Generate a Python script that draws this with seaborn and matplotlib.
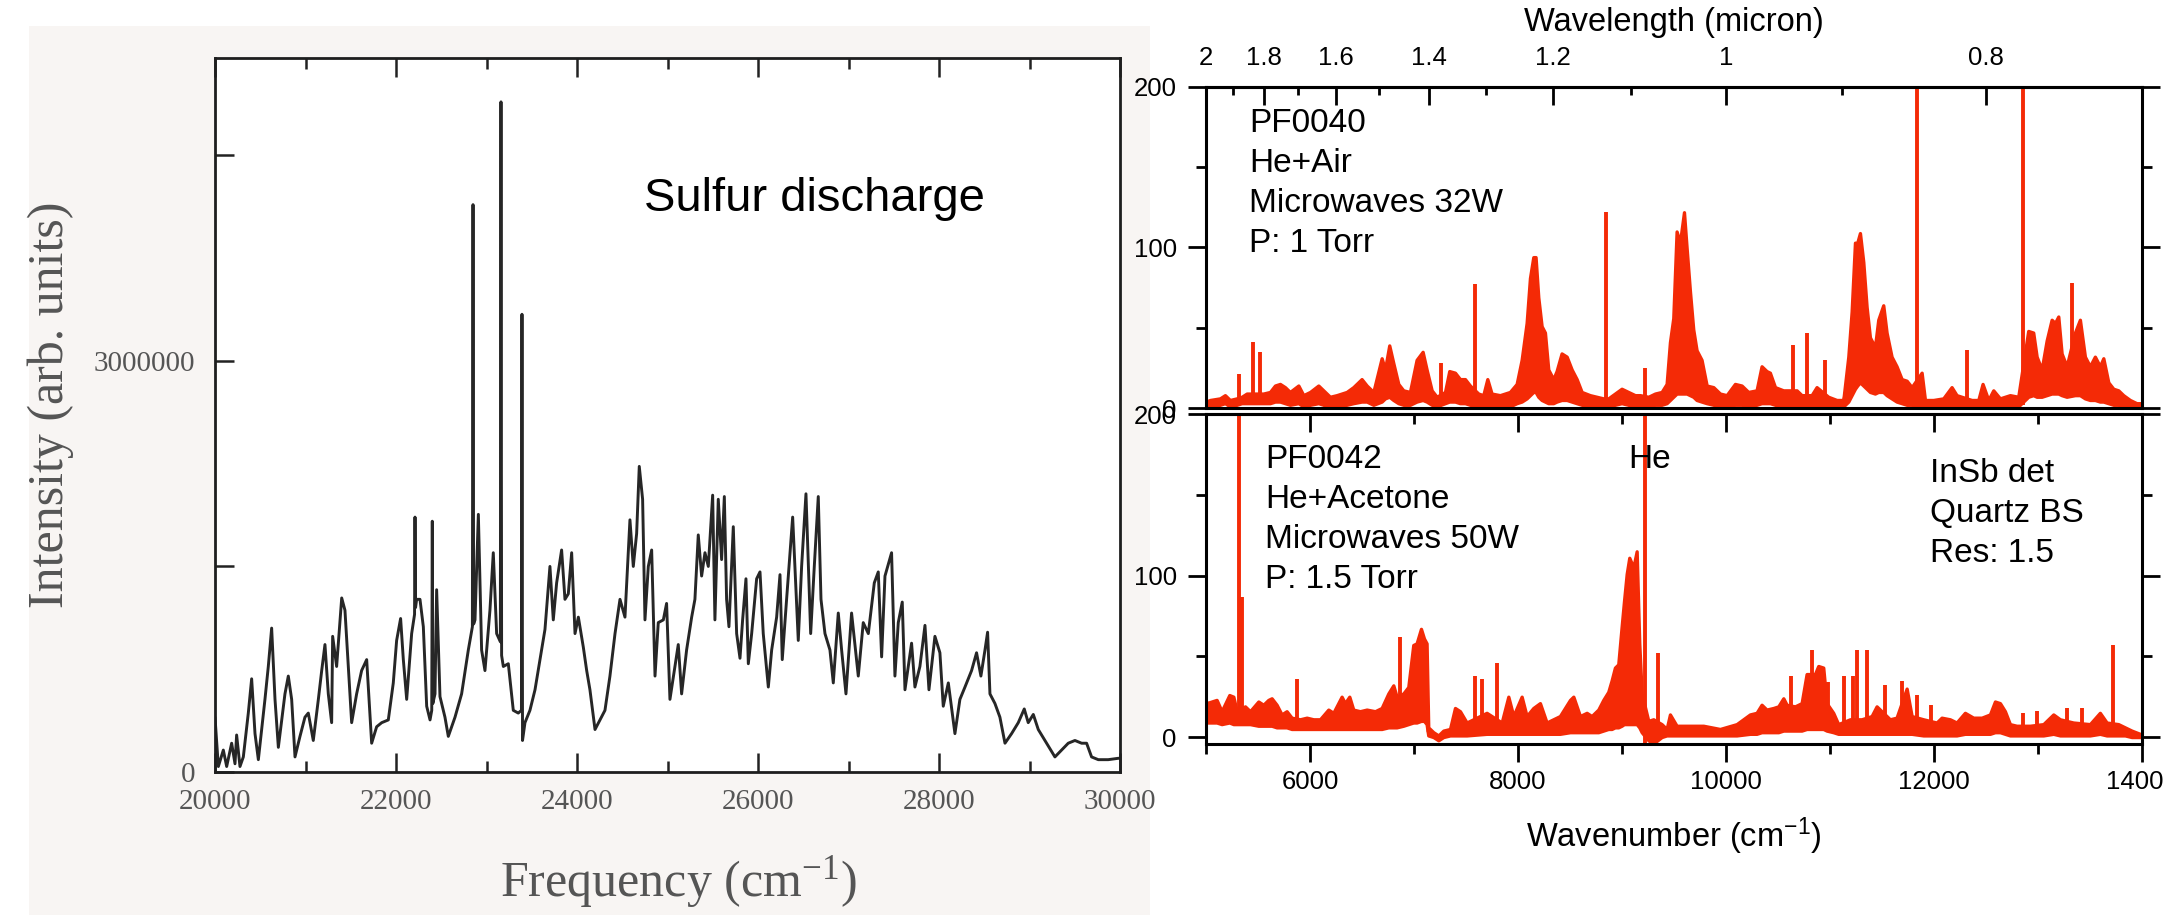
import numpy as np
import pandas as pd
import matplotlib
matplotlib.use("Agg")
import matplotlib.pyplot as plt
import seaborn as sns
from matplotlib.patches import Rectangle

# ---------------- data ----------------
# Left: sulfur discharge spectrum (frequency cm-1, intensity in millions)
sulfur_wn = [20000, 20037, 20092, 20129, 20184, 20221, 20239, 20276, 20313, 20368, 20405, 20442, 20479, 20516,
             20552, 20589, 20626, 20663, 20700, 20737, 20773, 20810, 20847, 20884, 20939, 20994, 21031, 21086,
             21142, 21179, 21215, 21252, 21289, 21300, 21344, 21400, 21436, 21473, 21510, 21565, 21620, 21676,
             21702, 21731, 21786, 21842, 21915, 21970, 22007, 22051, 22081, 22118, 22173, 22205, 22210, 22216,
             22228, 22265, 22302, 22339, 22376, 22395, 22401, 22407, 22431, 22449, 22486, 22541, 22578, 22652,
             22725, 22799, 22844, 22851, 22858, 22873, 22910, 22946, 22983, 23038, 23075, 23112, 23153, 23160,
             23167, 23186, 23241, 23296, 23351, 23386, 23392, 23398, 23425, 23480, 23536, 23591, 23646, 23701,
             23738, 23775, 23830, 23867, 23904, 23941, 23978, 24015, 24070, 24107, 24143, 24199, 24254, 24309,
             24364, 24420, 24475, 24530, 24585, 24622, 24659, 24688, 24725, 24751, 24788, 24825, 24862, 24898,
             24954, 24990, 25027, 25082, 25119, 25156, 25211, 25267, 25303, 25340, 25377, 25414, 25451, 25499,
             25524, 25561, 25598, 25628, 25653, 25679, 25727, 25764, 25801, 25830, 25867, 25893, 25930, 25985,
             26022, 26058, 26114, 26151, 26206, 26243, 26268, 26316, 26383, 26445, 26482, 26530, 26582, 26622,
             26666, 26696, 26740, 26795, 26832, 26887, 26924, 26972, 27034, 27108, 27163, 27219, 27285, 27329,
             27366, 27403, 27476, 27513, 27550, 27594, 27624, 27697, 27734, 27789, 27845, 27889, 27955, 28010,
             28047, 28103, 28176, 28231, 28287, 28360, 28415, 28463, 28508, 28537, 28563, 28618, 28673, 28729,
             28802, 28876, 28942, 28986, 29042, 29097, 29171, 29281, 29355, 29428, 29502, 29576, 29631, 29686,
             29760, 29870, 29981, 30000]
sulfur_int_millions = [0.40, 0.04, 0.16, 0.04, 0.21, 0.06, 0.27, 0.04, 0.11, 0.43, 0.68, 0.28, 0.09, 0.31,
             0.53, 0.77, 1.05, 0.53, 0.18, 0.38, 0.57, 0.70, 0.53, 0.11, 0.26, 0.40, 0.43, 0.23,
             0.53, 0.74, 0.93, 0.57, 0.36, 0.99, 0.77, 1.27, 1.18, 0.77, 0.36, 0.57, 0.74, 0.82,
             0.53, 0.21, 0.33, 0.36, 0.38, 0.65, 0.96, 1.12, 0.82, 0.53, 1.01, 1.15, 1.86, 1.20,
             1.26, 1.26, 1.06, 0.48, 0.38, 0.45, 1.83, 0.50, 0.57, 1.33, 0.55, 0.40, 0.26, 0.40,
             0.57, 0.89, 1.06, 4.14, 1.08, 1.11, 1.88, 0.89, 0.74, 1.18, 1.60, 1.01, 0.95, 4.89,
             0.85, 0.77, 0.79, 0.45, 0.43, 0.45, 3.34, 0.23, 0.36, 0.45, 0.60, 0.82, 1.04, 1.50,
             1.11, 1.38, 1.62, 1.26, 1.30, 1.60, 1.01, 1.13, 0.91, 0.74, 0.60, 0.31, 0.38, 0.45,
             0.70, 1.01, 1.26, 1.13, 1.84, 1.50, 1.74, 2.23, 1.99, 1.11, 1.50, 1.62, 0.70, 1.09,
             1.11, 1.23, 0.53, 0.77, 0.93, 0.57, 0.89, 1.13, 1.26, 1.73, 1.43, 1.60, 1.50, 2.02,
             1.11, 1.99, 1.55, 2.01, 1.26, 1.06, 1.79, 1.01, 0.83, 1.11, 1.41, 0.79, 1.01, 1.41,
             1.46, 1.01, 0.62, 0.89, 1.13, 1.44, 0.82, 1.26, 1.86, 0.96, 1.50, 2.03, 1.01, 1.50,
             2.01, 1.26, 1.01, 0.89, 0.65, 1.16, 0.89, 0.57, 1.16, 0.70, 1.09, 1.01, 1.38, 1.46,
             0.84, 1.43, 1.60, 0.70, 1.09, 1.24, 0.60, 0.94, 0.62, 0.77, 1.07, 0.60, 0.99, 0.87,
             0.48, 0.65, 0.28, 0.53, 0.62, 0.74, 0.87, 0.70, 0.89, 1.02, 0.57, 0.50, 0.40, 0.21,
             0.28, 0.36, 0.46, 0.36, 0.42, 0.31, 0.23, 0.11, 0.16, 0.21, 0.23, 0.21, 0.21, 0.11,
             0.09, 0.09, 0.10, 0.10]

# Right top: PF0040 (He+Air) - noise band (lower / upper envelope) and sharp lines
pf40_wn = [5000, 5038, 5134, 5182, 5230, 5295, 5343, 5391, 5487, 5551, 5615, 5663, 5711, 5759, 5807, 5888,
           5936, 6000, 6080, 6128, 6192, 6256, 6352, 6416, 6496, 6545, 6609, 6689, 6721, 6762, 6801, 6849,
           6897, 6961, 7025, 7083, 7121, 7170, 7218, 7298, 7339, 7394, 7442, 7490, 7538, 7618, 7666, 7705,
           7746, 7826, 7922, 7987, 8035, 8083, 8115, 8147, 8169, 8195, 8227, 8259, 8291, 8339, 8371, 8419,
           8468, 8516, 8564, 8612, 8692, 8756, 8820, 8868, 8932, 8996, 9060, 9125, 9173, 9253, 9317, 9381,
           9429, 9461, 9493, 9525, 9557, 9596, 9621, 9653, 9685, 9717, 9765, 9814, 9878, 9942, 10006, 10086,
           10150, 10214, 10294, 10342, 10390, 10422, 10471, 10551, 10599, 10679, 10727, 10823, 10871, 10983,
           11064, 11128, 11176, 11208, 11240, 11262, 11288, 11320, 11352, 11384, 11432, 11464, 11512, 11544,
           11592, 11640, 11689, 11737, 11785, 11881, 11913, 11993, 12089, 12169, 12217, 12362, 12426, 12467,
           12522, 12570, 12634, 12730, 12810, 12906, 12954, 12987, 13035, 13083, 13131, 13163, 13195, 13227,
           13275, 13355, 13403, 13451, 13499, 13547, 13595, 13628, 13676, 13724, 13772, 13820, 13884, 13948,
           14000]
pf40_lo = [1, 1, 2, 3, 1, 2, 3, 3, 3, 3, 3, 4, 4, 3, 2, 3,
           1, 2, 3, 2, 0, 1, 2, 3, 4, 4, 2, 4, 6, 7, 5, 3,
           2, 2, 4, 5, 4, 2, 1, 3, 4, 4, 3, 3, 2, 1, 1, 2,
           1, 1, 1, 3, 4, 6, 8, 10, 10, 7, 5, 4, 3, 3, 4, 5,
           5, 4, 3, 2, 1, 1, 1, 1, 2, 3, 2, 1, 1, 1, 2, 2,
           3, 5, 7, 9, 9, 9, 9, 8, 7, 5, 4, 3, 2, 1, 1, 2,
           2, 1, 2, 3, 3, 3, 2, 1, 1, 1, 0, 0, 1, 0,
           0, 1, 4, 8, 12, 14, 16, 14, 12, 10, 9, 10, 10, 8,
           6, 4, 3, 2, 2, -1, -1, 0, 0, 1, 0, 0, 0, 1,
           0, 1, 1, 1, 1, 7, 8, 7, 7, 8, 9, 9, 9, 8,
           7, 8, 8, 6, 5, 5, 4, 4, 3, 2, 2, 1, 1, 0,
           0]
pf40_hi = [4, 5, 6, 8, 5, 6, 7, 9, 9, 9, 10, 14, 15, 13, 10, 14,
           8, 10, 14, 11, 7, 8, 10, 13, 18, 14, 10, 31, 24, 39, 28, 15,
           11, 10, 30, 35, 24, 11, 7, 10, 23, 22, 18, 18, 14, 9, 8, 18,
           9, 8, 10, 15, 30, 53, 81, 94, 94, 69, 51, 47, 24, 18, 23, 34,
           32, 24, 18, 10, 8, 7, 6, 6, 9, 12, 10, 8, 8, 7, 9, 10,
           15, 41, 56, 110, 103, 122, 100, 73, 49, 36, 30, 14, 13, 9, 8, 15,
           14, 10, 11, 26, 23, 22, 13, 11, 11, 11, 8, 8, 13, 7,
           5, 5, 32, 60, 103, 103, 109, 91, 63, 44, 38, 55, 64, 47,
           32, 26, 18, 17, 13, 22, 5, 5, 6, 13, 8, 5, 5, 15,
           5, 11, 6, 8, 7, 48, 47, 32, 24, 42, 55, 53, 57, 34,
           26, 47, 55, 32, 26, 32, 26, 31, 16, 12, 11, 8, 5, 3,
           3]
pf40_line_wn = [5320, 5455, 5519, 7256, 7586, 8846, 9221, 10640, 10781, 10951, 11833, 12313, 12858, 13323]
pf40_line_top = [21, 41, 35, 28, 77, 122, 25, 39, 47, 30, 260, 36, 260, 78]
pf40_line_base = [3, 4, 4, 2, 2, 2, 2, 2, 1, 1, 0, 1, 2, 8]

# Right bottom: PF0042 (He+Acetone)
pf42_wn = [5000, 5006, 5102, 5150, 5224, 5263, 5295, 5375, 5423, 5503, 5551, 5599, 5631, 5679, 5727, 5775,
           5823, 5904, 5968, 6032, 6096, 6176, 6224, 6304, 6336, 6378, 6416, 6480, 6545, 6625, 6689, 6753,
           6801, 6833, 6897, 6945, 6993, 7025, 7067, 7096, 7121, 7137, 7186, 7234, 7282, 7346, 7394, 7442,
           7506, 7698, 7843, 7907, 7955, 8035, 8083, 8147, 8211, 8275, 8339, 8403, 8500, 8532, 8596, 8660,
           8708, 8772, 8820, 8868, 8900, 8932, 8964, 8996, 9019, 9045, 9070, 9109, 9141, 9166, 9189, 9253,
           9301, 9381, 9429, 9461, 9525, 9589, 9782, 9942, 10102, 10230, 10294, 10342, 10390, 10455, 10503,
           10551, 10583, 10663, 10727, 10775, 10855, 10887, 10935, 10967, 11031, 11079, 11192, 11304, 11400,
           11448, 11576, 11640, 11737, 11785, 11897, 12025, 12073, 12153, 12217, 12297, 12378, 12458, 12538,
           12586, 12634, 12682, 12730, 12794, 12922, 13051, 13147, 13211, 13339, 13499, 13595, 13660, 13772,
           13836, 13900, 13980, 14000]
pf42_lo = [9, 9, 9, 8, 9, 8, 8, 8, 8, 7, 7, 7, 7, 6, 6, 6,
           5, 5, 5, 5, 5, 5, 5, 5, 5, 5, 5, 5, 5, 5, 5, 6,
           6, 6, 7, 8, 9, 9, 10, 10, 8, 1, 0, -2, 0, 1, 1, 1,
           1, 2, 2, 2, 2, 2, 2, 2, 2, 2, 2, 2, 3, 3, 3, 3,
           3, 3, 4, 5, 5, 6, 6, 7, 8, 8, 8, 8, 8, 6, 3, -2,
           -4, 0, 1, 1, 1, 1, 1, 1, 1, 2, 2, 3, 3, 3, 3,
           4, 4, 4, 4, 5, 5, 5, 5, 4, 3, 2, 2, 2, 2,
           2, 2, 2, 2, 2, 1, 1, 1, 1, 1, 2, 2, 2, 2,
           3, 3, 2, 1, 1, 1, 1, 2, 1, 1, 1, 2, 1, 1,
           1, 0, 0, 0]
pf42_hi = [22, 21, 23, 16, 26, 25, 16, 19, 16, 22, 20, 23, 24, 20, 14, 16,
           12, 11, 12, 11, 11, 17, 15, 25, 21, 25, 17, 16, 17, 16, 18, 27,
           32, 25, 27, 31, 57, 58, 67, 61, 58, 6, 3, 1, 4, 5, 18, 16,
           9, 15, 9, 25, 13, 25, 13, 18, 21, 9, 11, 13, 23, 25, 13, 15,
           13, 17, 23, 28, 35, 43, 45, 68, 84, 101, 111, 105, 115, 58, 27, 10,
           11, 8, 5, 14, 7, 7, 7, 5, 8, 14, 15, 20, 17, 18, 19,
           24, 20, 19, 21, 39, 39, 44, 43, 21, 15, 8, 11, 11, 13,
           19, 11, 12, 30, 13, 11, 9, 12, 11, 9, 15, 12, 12, 14,
           22, 21, 16, 8, 7, 7, 8, 14, 11, 9, 8, 15, 9, 8,
           6, 4, 2, 2]
pf42_line_wn = [5320, 5343, 5871, 6865, 7586, 7650, 7794, 9221, 9349, 10621, 10823, 10983, 11134, 11224,
                11256, 11358, 11528, 11689, 11833, 11967, 12858, 12987, 13281, 13419, 13724]
pf42_line_top = [260, 87, 36, 62, 38, 36, 46, 260, 52, 38, 54, 34, 38, 38,
                 54, 54, 32, 35, 26, 20, 15, 16, 18, 18, 57]
pf42_line_base = [8, 8, 6, 6, 2, 2, 2, -4, 0, 4, 5, 4, 2, 2,
                  2, 2, 2, 2, 2, 1, 1, 1, 1, 1, 1]

wavelength_ticks = [2, 1.8, 1.6, 1.4, 1.2, 1.0, 0.8]
wavelength_labels = ["2", "1.8", "1.6", "1.4", "1.2", "1", "0.8"]
wavelength_minor = [1.9, 1.7, 1.5, 1.3, 1.1, 0.9]

top_text = ["PF0040", "He+Air", "Microwaves 32W", "P: 1 Torr"]
bottom_text = ["PF0042", "He+Acetone", "Microwaves 50W", "P: 1.5 Torr"]
setup_text = ["InSb det", "Quartz BS", "Res: 1.5"]

# ---------------- style ----------------
sns.set_theme(style="ticks")
plt.rcParams['font.family'] = ['Liberation Sans', 'DejaVu Sans']

RED = '#f42a06'
PAGE = '#f8f5f3'
SCAN_TEXT = '#555555'
SERIF = ['Liberation Serif', 'DejaVu Serif']

W, H = 2163, 915
fig = plt.figure(figsize=(W / 100, H / 100), dpi=100)
fig.patch.set_facecolor('white')


def fx(px):
    return px / W


def fy(py):
    return 1 - py / H


# scanned page background
fig.add_artist(Rectangle((fx(29), 0), fx(1150) - fx(29), fy(26), transform=fig.transFigure,
                         facecolor=PAGE, edgecolor='none', zorder=-10))

# ---------------- left panel ----------------
ax0 = fig.add_axes([fx(215), fy(772), (1120 - 215) / W, (772 - 58) / H])
ax0.set_facecolor('white')
sns.lineplot(x=sulfur_wn, y=np.array(sulfur_int_millions) * 1e6, ax=ax0, color='#262626',
             linewidth=2.1, estimator=None, sort=False)
ax0.set_xlim(20000, 30000)
ax0.set_ylim(0, 5.21e6)
ax0.set_xticks(range(20000, 30001, 2000))
ax0.set_xticks(range(21000, 30000, 2000), minor=True)
ax0.set_yticks([0, 1.5e6, 3e6, 4.5e6])
ax0.set_yticklabels(['0', '', '3000000', ''])
ax0.set_xticklabels([str(v) for v in range(20000, 30001, 2000)])
ax0.tick_params(axis='both', which='both', direction='in', colors='#222222', labelcolor=SCAN_TEXT,
                labelsize=21, width=1.8)
ax0.tick_params(axis='x', which='both', top=True, bottom=True, pad=12)
ax0.tick_params(axis='y', which='both', left=True, right=False, pad=14)
ax0.tick_params(which='major', length=14)
ax0.tick_params(which='minor', length=8)
for lbl in ax0.get_xticklabels() + ax0.get_yticklabels():
    lbl.set_family(SERIF)
for sp in ax0.spines.values():
    sp.set_visible(True)
    sp.set_linewidth(2.0)
    sp.set_color('#1e1e1e')
ax0.set_xlabel('')
ax0.set_ylabel('')

fig.text(fx(51), fy(405), 'Intensity (arb. units)', rotation=90, ha='center', va='center',
         family=SERIF, size=36, color=SCAN_TEXT)
fig.text(fx(678), fy(882), r'Frequency (cm$\mathregular{^{-1}}$)', ha='center', va='center',
         family=SERIF, size=36, color=SCAN_TEXT)
fig.text(fx(644), fy(211), 'Sulfur discharge', ha='left', va='baseline', size=34, color='black')


# ---------------- right panels ----------------
def draw_band(ax, wn, lo, hi):
    df = pd.DataFrame({'wn': np.concatenate([wn, wn]), 'I': np.concatenate([lo, hi])})
    sns.lineplot(data=df, x='wn', y='I', ax=ax, color=RED, linewidth=2.4,
                 errorbar=lambda v: (v.min(), v.max()),
                 err_kws=dict(alpha=1, linewidth=2.4))


def style_right(ax, ylim):
    ax.set_xlim(5000, 14000)
    ax.set_ylim(*ylim)
    ax.set_facecolor('white')
    ax.set_yticks([0, 100, 200])
    ax.set_yticklabels(['0', '100', '200'])
    ax.set_yticks([50, 150], minor=True)
    ax.tick_params(axis='y', which='both', direction='out', left=True, right=True,
                   labelleft=True, labelright=False, width=2, colors='black', labelsize=18.5, pad=8)
    ax.tick_params(axis='y', which='major', length=13)
    ax.tick_params(axis='y', which='minor', length=7)
    for sp in ax.spines.values():
        sp.set_visible(True)
        sp.set_linewidth(2.2)
        sp.set_color('black')
    ax.set_xlabel('')
    ax.set_ylabel('')


def inv(x):
    x = np.asarray(x, dtype=float)
    with np.errstate(divide='ignore', invalid='ignore'):
        return 1e4 / x


ax1 = fig.add_axes([fx(1206), fy(408), (2142 - 1206) / W, (408 - 87) / H])
ax2 = fig.add_axes([fx(1206), fy(744), (2142 - 1206) / W, (744 - 414) / H])

draw_band(ax1, pf40_wn, pf40_lo, pf40_hi)
ax1.vlines(pf40_line_wn, pf40_line_base, pf40_line_top, color=RED, linewidth=2.8)
style_right(ax1, (0, 200))
ax1.tick_params(axis='x', which='both', bottom=False, top=False, labelbottom=False, labeltop=False)

sec = ax1.secondary_xaxis('top', functions=(inv, inv))
sec.set_xticks(wavelength_ticks)
sec.set_xticklabels(wavelength_labels)
sec.set_xticks(wavelength_minor, minor=True)
sec.tick_params(axis='x', which='both', direction='in', width=2, colors='black', labelsize=18.5, pad=12)
sec.tick_params(axis='x', which='major', length=13)
sec.tick_params(axis='x', which='minor', length=6)
sec.spines['top'].set_linewidth(2.2)

draw_band(ax2, pf42_wn, pf42_lo, pf42_hi)
ax2.vlines(pf42_line_wn, pf42_line_base, pf42_line_top, color=RED, linewidth=2.8)
style_right(ax2, (-4.3, 200))
ax2.set_xticks(range(6000, 14001, 2000))
ax2.set_xticklabels([str(v) for v in range(6000, 14001, 2000)])
ax2.set_xticks(range(5000, 14000, 2000), minor=True)
ax2.tick_params(axis='x', which='both', direction='out', bottom=True, top=False, width=2,
                colors='black', labelsize=18.5, pad=6)
ax2.tick_params(axis='x', which='major', length=13)
ax2.tick_params(axis='x', which='minor', length=7)

sec2 = ax2.secondary_xaxis('top')
sec2.set_xticks(range(6000, 14001, 2000))
sec2.set_xticks(range(5000, 14000, 2000), minor=True)
sec2.tick_params(axis='x', which='both', direction='in', width=2, colors='black', labeltop=False)
sec2.tick_params(axis='x', which='major', length=13)
sec2.tick_params(axis='x', which='minor', length=7)
sec2.spines['top'].set_linewidth(2.2)

# axis titles of right panel
fig.text(fx(1674), fy(31), 'Wavelength (micron)', ha='center', va='baseline', size=23.5, color='black')
fig.text(fx(1674), fy(847), r'Wavenumber (cm$\mathregular{^{-1}}$)', ha='center', va='baseline',
         size=23.5, color='black')

# annotations
for i, s in enumerate(top_text):
    fig.text(fx(1249), fy(132 + 40 * i), s, ha='left', va='baseline', size=24, color='black')
for i, s in enumerate(bottom_text):
    fig.text(fx(1265), fy(468 + 40 * i), s, ha='left', va='baseline', size=24, color='black')
fig.text(fx(1628), fy(468), 'He', ha='left', va='baseline', size=24, color='black')
for i, s in enumerate(setup_text):
    fig.text(fx(1930), fy(482 + 40 * i), s, ha='left', va='baseline', size=24, color='black')

fig.savefig('out.png', dpi=100, facecolor=fig.get_facecolor())
